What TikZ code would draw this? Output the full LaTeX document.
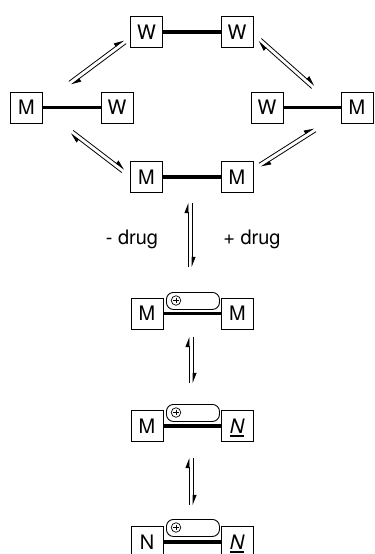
\documentclass[tikz,border=0pt]{standalone}
\usepackage{fontspec}
\setmainfont{TeX Gyre Heros}
\usetikzlibrary{arrows.meta,calc}

% underlined italic N
\newcommand\uN{\setbox0\hbox{\itshape N}\rlap{\smash{\rule[-3.6bp]{\wd0}{1.4bp}}}\box0}

% pair of opposed half-arrows between two points
\newcommand\eqarrows[2]{%
  \draw[harp] ($(#1)!2bp!90:(#2)$) -- ($(#2)!2bp!-90:(#1)$);
  \draw[harp] ($(#2)!2bp!90:(#1)$) -- ($(#1)!2bp!-90:(#2)$);}

\tikzset{
  unit/.style={draw, line width=0.9bp, minimum width=32bp, minimum height=31bp,
    inner sep=0pt, font=\fontsize{20}{20}\selectfont},
  bar/.style={line width=3.8bp},
  pill/.style={draw, line width=0.9bp, rounded corners=7bp, minimum width=53bp,
    minimum height=17bp, inner sep=0pt, anchor=north west},
  charge/.style={draw, circle, line width=0.7bp, minimum size=9.5bp, inner sep=0pt},
  plusmark/.style={line width=0.7bp},
  harp/.style={line width=0.8bp, -{Triangle[left, length=9bp, width=7bp]}},
  lbl/.style={font=\fontsize{20}{20}\selectfont, anchor=base},
}

\begin{document}
\begin{tikzpicture}[x=1bp, y=-1bp]
\useasboundingbox (0,0) rectangle (374,554);

% ---- cycle of conformations ----
\node[unit] (t1) at (146.5,32) {W};
\node[unit] (t2) at (237,32) {W};
\node[unit] (l1) at (26.5,107.5) {M};
\node[unit] (l2) at (117,107.5) {W};
\node[unit] (r1) at (267,107.5) {W};
\node[unit] (r2) at (357,107.5) {M};
\node[unit] (b1) at (146.5,177) {M};
\node[unit] (b2) at (237,177) {M};
\draw[bar] (t1) -- (t2);
\draw[bar] (l1) -- (l2);
\draw[bar] (r1) -- (r2);
\draw[bar] (b1) -- (b2);

\coordinate (h1a) at (70,83);   \coordinate (h1b) at (125,42);
\coordinate (h2a) at (260,40);  \coordinate (h2b) at (313,87);
\coordinate (h3a) at (315,130); \coordinate (h3b) at (260,165);
\coordinate (h4a) at (123,171); \coordinate (h4b) at (72,132);
\eqarrows{h1a}{h1b}
\eqarrows{h2a}{h2b}
\eqarrows{h3a}{h3b}
\eqarrows{h4a}{h4b}

% ---- drug binding ----
\coordinate (v1a) at (190,267); \coordinate (v1b) at (190,203);
\eqarrows{v1a}{v1b}
\node[lbl] (minus) at (132,244) {- drug};
\node[lbl] (plus) at (252,244) {+ drug};

% bound state M-M
\node[unit] (a1) at (147,313.5) {M};
\node[unit] (a2) at (237.5,313.5) {M};
\draw[bar] (a1) -- (a2);
\node[pill] (pa) at (166,292) {};
\node[charge] (ca) at (176,300.5) {};
\draw[plusmark] ($(ca)+(-2.7,0)$) -- ($(ca)+(2.7,0)$) ($(ca)+(0,-2.7)$) -- ($(ca)+(0,2.7)$);

\coordinate (v2a) at (191,383); \coordinate (v2b) at (191,337);
\eqarrows{v2a}{v2b}

% bound state M-N
\node[unit] (m1) at (147,426) {M};
\node[unit] (n1) at (237,426) {\uN};
\draw[bar] (m1) -- (n1);
\node[pill] (pb) at (166,404) {};
\node[charge] (cb) at (176,412.5) {};
\draw[plusmark] ($(cb)+(-2.7,0)$) -- ($(cb)+(2.7,0)$) ($(cb)+(0,-2.7)$) -- ($(cb)+(0,2.7)$);

\coordinate (v3a) at (191,505); \coordinate (v3b) at (191,458);
\eqarrows{v3a}{v3b}

% bound state N-N
\node[unit] (c1) at (147,542) {N};
\node[unit] (c2) at (237,542) {\uN};
\draw[bar] (c1) -- (c2);
\node[pill] (pc) at (166,519) {};
\node[charge] (cc) at (176,527.5) {};
\draw[plusmark] ($(cc)+(-2.7,0)$) -- ($(cc)+(2.7,0)$) ($(cc)+(0,-2.7)$) -- ($(cc)+(0,2.7)$);
\end{tikzpicture}
\end{document}
